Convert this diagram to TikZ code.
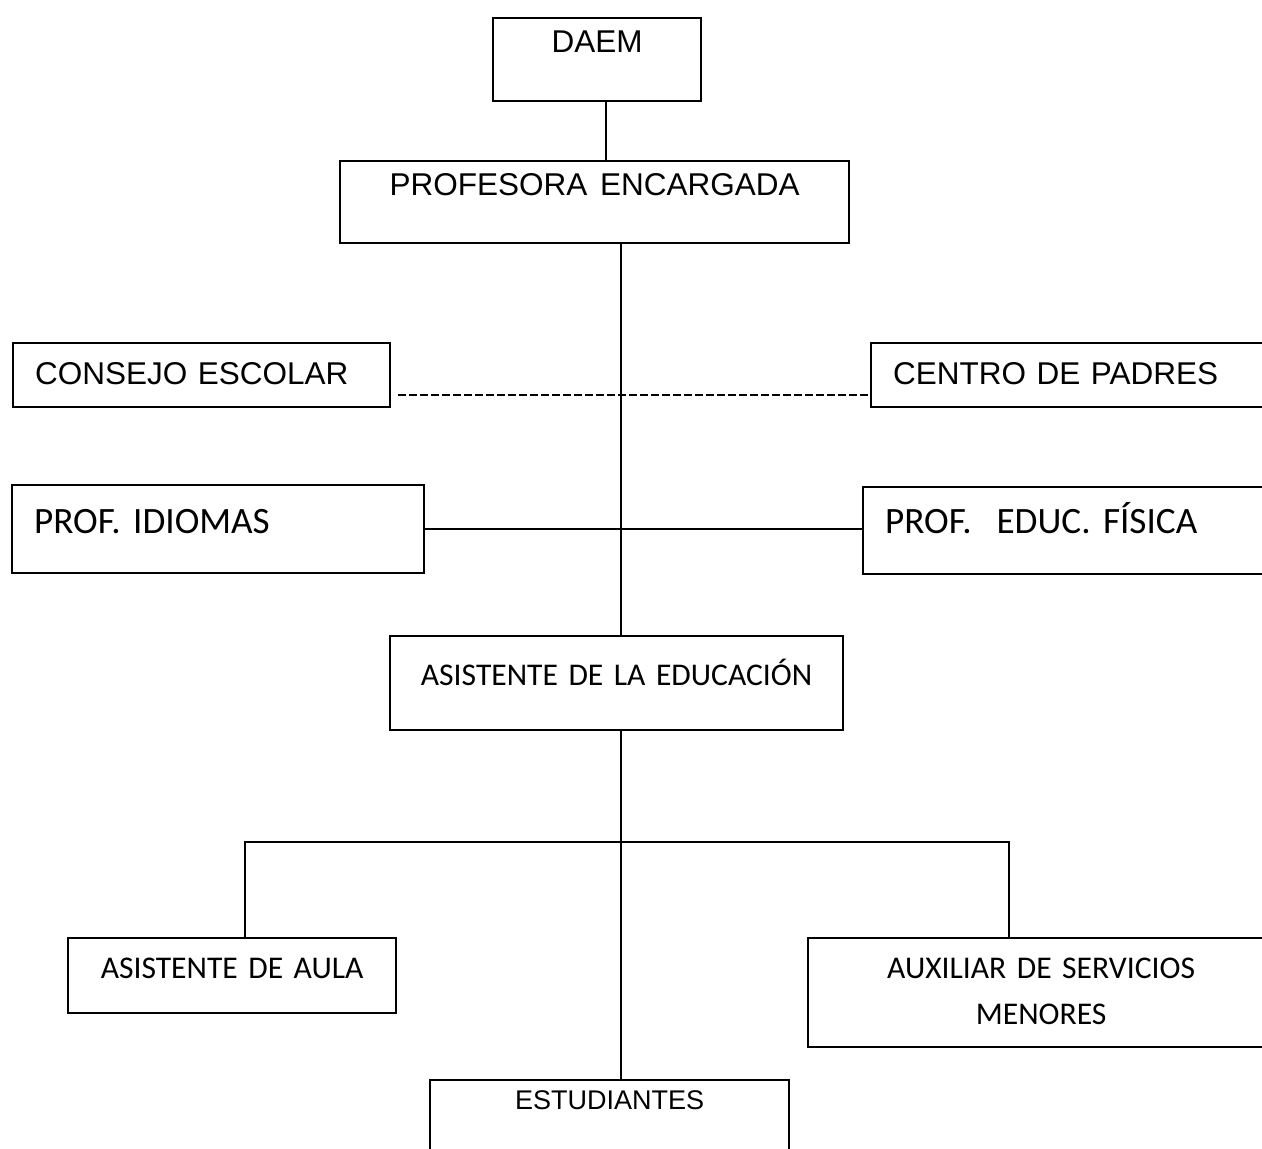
\documentclass[tikz,border=0pt]{standalone}
\usepackage{fontspec}
\setmainfont{Liberation Sans}
\newfontfamily\calibri[WordSpace=0.8]{Carlito}
\frenchspacing
\begin{document}
\begin{tikzpicture}[x=0.5pt, y=-0.5pt]
		\def\spinex{621}
		\def\barrow{842}
		\def\barleft{245}
		\def\barright{1009}

		\tikzset{
			basic/.style={rectangle, draw=black, line width=1.1pt, inner sep=0pt, anchor=north west},
			boxsize/.style n args={3}{text width=#1, text height=#2, text depth=#3},
			arialnode/.style={basic, align=center, font=\fontsize{15.75}{19}\selectfont},
			arialsmall/.style={basic, align=center, font=\fontsize{13.5}{16}\selectfont},
			calnode/.style={basic, align=left, font=\calibri\fontsize{18.6}{22}\selectfont},
			calsmall/.style={basic, align=center, font=\calibri\fontsize{15.8}{23}\selectfont},
			sidenode/.style={align=left, inner xsep=11pt},
			sline/.style={line width=0.8pt},
			dline/.style={line width=1pt, dash pattern=on 4pt off 1.5pt}
		}

		\useasboundingbox (0,0) rectangle (1262,1148);
		\clip (0,0) rectangle (1262,1148);

		% boxes

		\node[arialnode, boxsize={104pt}{17pt}{24.5pt}] (org_DAEM) at (492,17) {DAEM};
		\node[arialnode, boxsize={254.5pt}{17pt}{24pt}] (org_PROF) at (339,160) {PROFESORA\hspace{0.4em}ENCARGADA};
		\node[arialnode, sidenode, boxsize={166.5pt}{20.5pt}{11.5pt}] (org_CONS) at (12,342) {CONSEJO ESCOLAR};
		\node[arialnode, sidenode, boxsize={180.5pt}{20.5pt}{11.5pt}] (org_CENT) at (870,342) {CENTRO DE PADRES};
		\node[calnode, sidenode, boxsize={184pt}{24pt}{20pt}] (org_IDIO) at (11,484) {PROF. IDIOMAS};
		\node[calnode, sidenode, boxsize={184.5pt}{23pt}{20.5pt}] (org_FIS) at (862,486) {PROF.\ \ EDUC. FÍSICA};
		\node[calsmall, boxsize={226.5pt}{24.5pt}{22.5pt}] (org_ASED) at (389,635) {ASISTENTE DE LA EDUCACIÓN};
		\node[calsmall, boxsize={164pt}{20pt}{17.5pt}] (org_AULA) at (67,937) {ASISTENTE DE AULA};
		\node[calsmall, boxsize={233pt}{20pt}{34.5pt}] (org_AUX) at (807,937) {AUXILIAR DE SERVICIOS\\MENORES};
		\node[arialsmall, boxsize={179.5pt}{14.5pt}{26pt}] (org_EST) at (429,1079) {ESTUDIANTES};

		% connectors

		\coordinate (spine) at (\spinex,0);
		\coordinate (bL) at (\barleft,\barrow);
		\coordinate (bR) at (\barright,\barrow);

		\draw[sline] ([xshift=4.5pt]org_DAEM.south) -- ([xshift=4.5pt]org_DAEM.south |- org_PROF.north);
		\draw[sline] ([yshift=1pt]org_PROF.south -| spine) -- (org_ASED.north -| spine);
		\draw[sline] (org_ASED.south -| spine) -- (org_EST.north -| spine);

		\draw[dline] ([xshift=3.5pt,yshift=6.5pt]org_CONS.south east) -- ([yshift=6.5pt]org_CENT.south west);
		\draw[sline] (org_IDIO.east) -- (org_IDIO.east -| org_FIS.west);

		\draw[sline] (org_AULA.north -| bL) -- (bL) -- (bR) -- (org_AUX.north -| bR);
\end{tikzpicture}
\end{document}
